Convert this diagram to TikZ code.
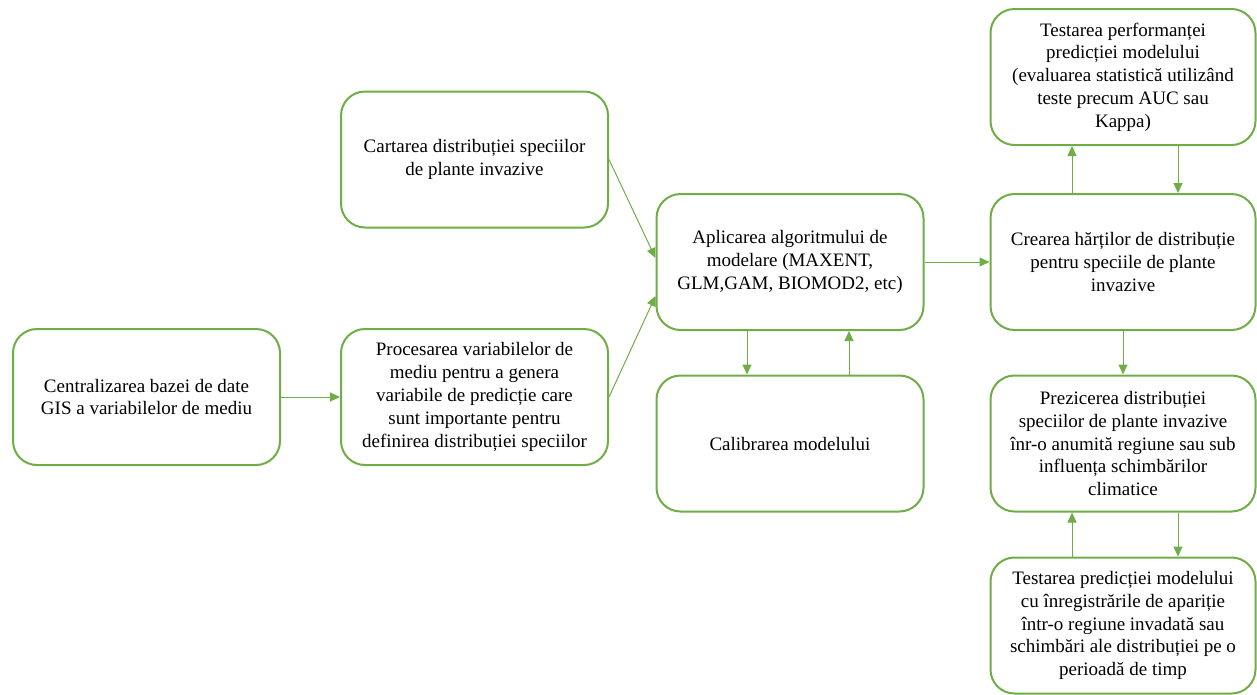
\documentclass[tikz,border=0pt]{standalone}
\usepackage{fontspec}
\setmainfont{Liberation Serif}
\usetikzlibrary{arrows.meta}
\definecolor{leaf}{HTML}{70AD47}
\tikzset{
  stepbox/.style={draw=leaf, line width=2pt, rounded corners=24pt, fill=white,
    minimum width=267pt, minimum height=136pt, inner sep=0pt, align=center,
    font=\fontsize{19}{22.8}\selectfont, text=black},
  flow/.style={draw=leaf, line width=1pt, -{Triangle[length=10pt,width=9pt]}}
}
\begin{document}
\begin{tikzpicture}[x=1pt,y=-1pt]
\useasboundingbox (0,0) rectangle (1257,694);

% left column
\node[stepbox] (gis) at (146.5,397) {Centralizarea bazei de date\\GIS a variabilelor de mediu};
\node[stepbox] (proc) at (474.5,397) {Procesarea variabilelor de\\mediu pentru a genera\\variabile de predicție care\\sunt importante pentru\\definirea distribuției speciilor};
\node[stepbox] (cart) at (474.5,159.5) {Cartarea distribuției speciilor\\de plante invazive};

% modelling column
\node[stepbox] (alg) at (790,262) {Aplicarea algoritmului de\\modelare (MAXENT,\\GLM,GAM, BIOMOD2, etc)};
\node[stepbox] (calib) at (790,443.5) {Calibrarea modelului};

% right column
\node[stepbox, minimum width=265pt] (perf) at (1123,77) {Testarea performanței\\predicției modelului\\(evaluarea statistică utilizând\\teste precum AUC sau\\Kappa)};
\node[stepbox, minimum width=265pt] (maps) at (1123,262) {Crearea hărților de distribuție\\pentru speciile de plante\\invazive};
\node[stepbox, minimum width=265pt] (pred) at (1123,443.5) {Prezicerea distribuției\\speciilor de plante invazive\\înr-o anumită regiune sau sub\\influența schimbărilor\\climatice};
\node[stepbox, minimum width=265pt] (test) at (1123,625.5) {Testarea predicției modelului\\cu înregistrările de apariție\\într-o regiune invadată sau\\schimbări ale distribuției pe o\\perioadă de timp};

% connectors
\draw[flow] (gis) -- (proc);
\draw[flow] (cart.east) -- ([yshift=4pt]alg.west);
\draw[flow] (proc.east) -- ([yshift=-34pt]alg.west);
\draw[flow] (alg) -- (maps);
\draw[flow] ([xshift=-43pt]alg.south) -- ([xshift=-43pt]calib.north);
\draw[flow] ([xshift=59pt]calib.north) -- ([xshift=59pt]alg.south);
\draw[flow] ([xshift=-51pt]maps.north) -- ([xshift=-51pt]perf.south);
\draw[flow] ([xshift=55pt]perf.south) -- ([xshift=55pt]maps.north);
\draw[flow] (maps) -- (pred);
\draw[flow] ([xshift=55pt]pred.south) -- ([xshift=55pt]test.north);
\draw[flow] ([xshift=-51pt]test.north) -- ([xshift=-51pt]pred.south);
\end{tikzpicture}
\end{document}
